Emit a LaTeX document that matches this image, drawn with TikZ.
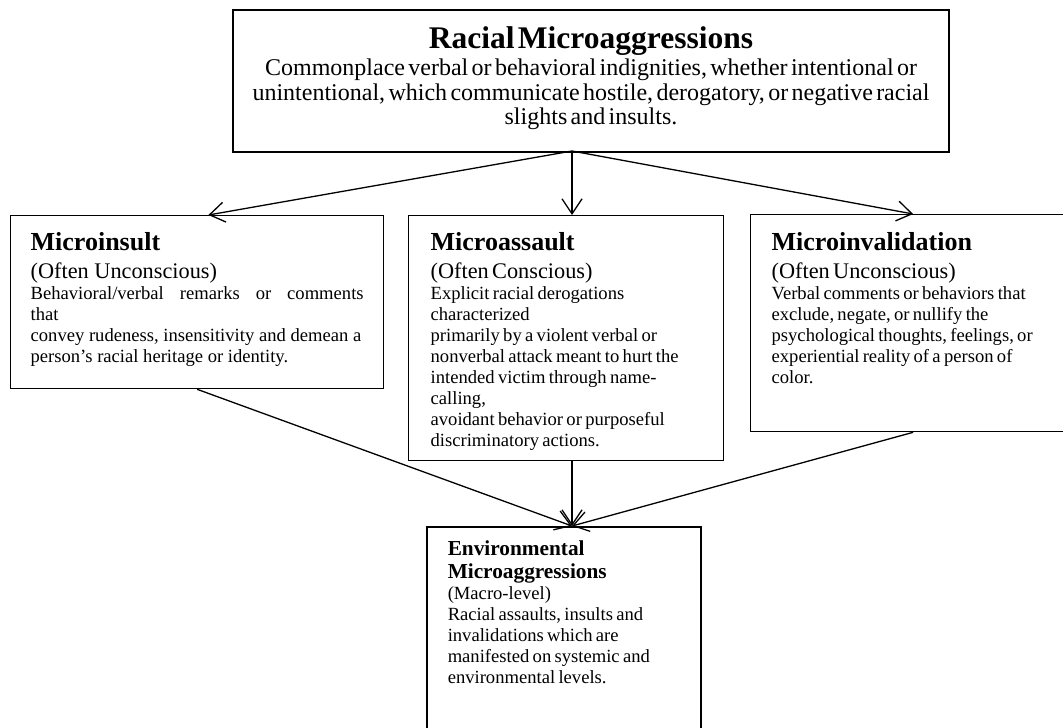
\documentclass[tikz,border=0pt]{standalone}
\usepackage{fontspec}
\setmainfont{Liberation Serif}
\usetikzlibrary{arrows.meta,calc}

\newcommand{\tophead}{\fontsize{31.5}{31}\selectfont\bfseries}
\newcommand{\topbody}{\fontsize{24}{24}\selectfont}
\newcommand{\boxhead}{\fontsize{26}{27}\selectfont\bfseries}
\newcommand{\boxsub}{\fontsize{22.3}{28}\selectfont}
\newcommand{\boxbody}{\fontsize{18.6}{21}\selectfont}
\newcommand{\envhead}{\fontsize{21.3}{23}\selectfont\bfseries}

\begin{document}
\begin{tikzpicture}[x=1pt,y=-1pt,
  box/.style={draw, rectangle, anchor=north west, line width=1.3pt,
    inner ysep=0pt, inner xsep=21pt, align=left},
  link/.style={line width=1.3pt, -{Straight Barb[length=15pt,width=20pt]}}]
  \useasboundingbox (0,0) rectangle (1063,728);
  \clip (0,0) rectangle (1063,728);

  % overall definition
  \node[box, line width=2pt, inner xsep=8pt, text width=700pt, align=center,
    text height=38pt, text depth=104pt] (racial) at (232,9)
    {{\tophead Racial Microaggressions\par}\vspace{4pt}
     {\topbody Commonplace verbal or behavioral indignities, whether intentional or\\
      unintentional, which communicate hostile, derogatory, or negative racial\\
      slights and insults.\par}};

  % the three forms
  \node[box, inner xsep=20pt, text width=333pt, align=justify,
    text height=35pt, text depth=138pt] (insult) at (10,215)
    {{\boxhead Microinsult\par}
     {\boxsub (Often Unconscious)\par}
     {\boxbody Behavioral/verbal remarks or comments\linebreak that\\
      convey rudeness, insensitivity and demean a\\
      person’s racial heritage or identity.\par}};
  \node[box, inner xsep=22pt, text width=271pt,
    text height=35pt, text depth=210pt] (assault) at (408,215)
    {{\boxhead Microassault\par}
     {\boxsub (Often Conscious)\par}
     {\boxbody Explicit racial derogations\\
      characterized\\
      primarily by a violent verbal or\\
      nonverbal attack meant to hurt the\\
      intended victim through name-\\
      calling,\\
      avoidant behavior or purposeful\\
      discriminatory actions.\par}};
  \node[box, text width=283pt,
    text height=36pt, text depth=181pt] (invalid) at (750,214)
    {{\boxhead Microinvalidation\par}
     {\boxsub (Often Unconscious)\par}
     {\boxbody Verbal comments or behaviors that\\
      exclude, negate, or nullify the\\
      psychological thoughts, feelings, or\\
      experiential reality of a person of\\
      color.\par}};

  % macro level
  \node[box, line width=1.5pt, text width=232pt,
    text height=29pt, text depth=250pt] (environ) at (426,526)
    {{\envhead Environmental\\ Microaggressions\par}
     {\boxbody (Macro-level)\\
      Racial assaults, insults and\\
      invalidations which are\\
      manifested on systemic and\\
      environmental levels.\par}};

  \coordinate (split) at (572,151);
  \coordinate (merge) at (572,526);

  \draw[link] (split) -- ($(insult.north west)!0.53!(insult.north east)$);
  \draw[link] (split) -- (split |- assault.north);
  \draw[link] (split) -- (invalid.north);

  \draw[link] (insult.south) -- (merge);
  \draw[link] (split |- assault.south) -- (merge);
  \draw[link] (invalid.south) -- (merge);
\end{tikzpicture}
\end{document}
